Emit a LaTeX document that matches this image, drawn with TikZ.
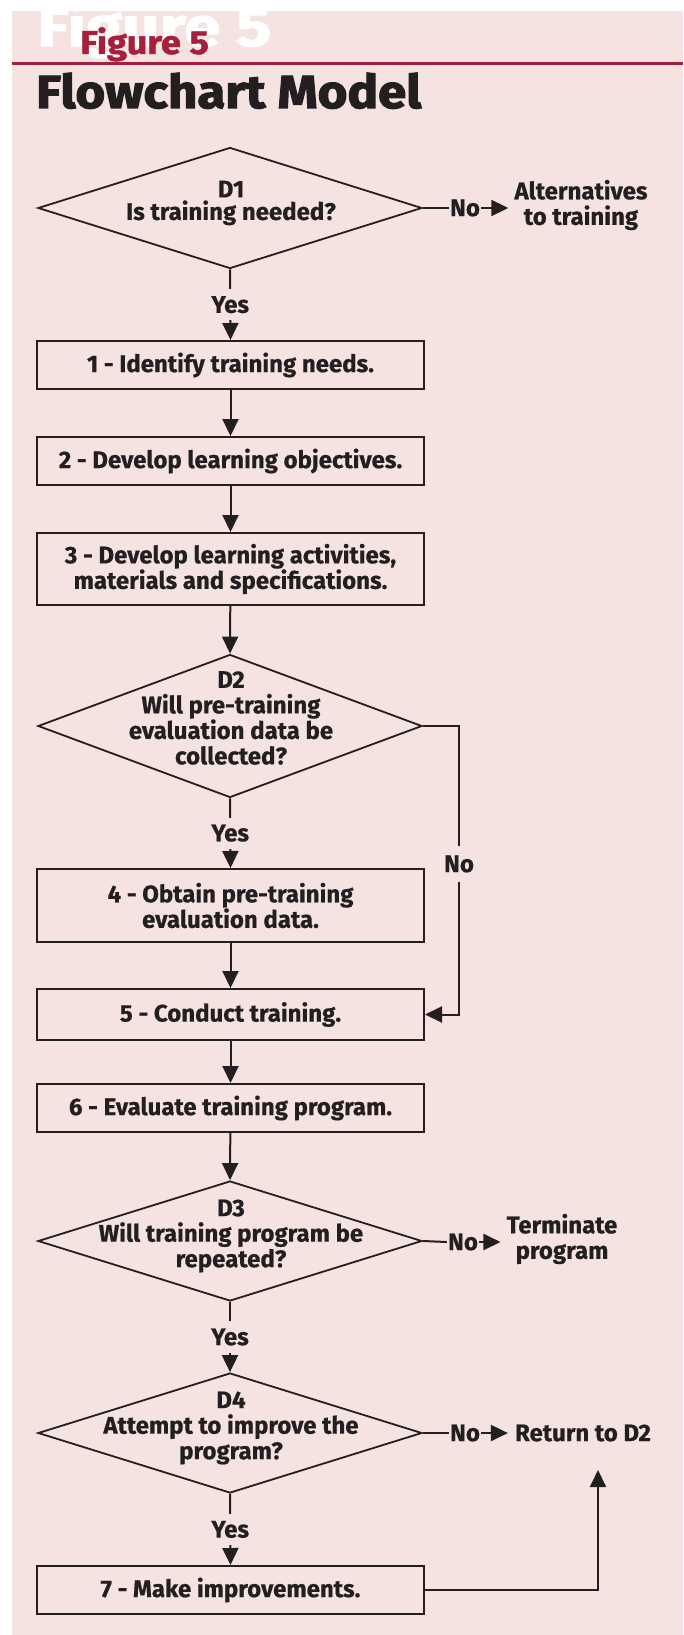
\documentclass[tikz,border=0pt]{standalone}
\usepackage{fontspec}
\setmainfont{Fira Sans}
\newfontfamily\bodyfont{Fira Sans}[FakeBold=0.6]
\newfontfamily\figfont{Fira Sans}[FakeStretch=1.1,FakeBold=1.5]
\newfontfamily\bigfigfont{Fira Sans}[FakeStretch=1.2,FakeBold=2]
\newfontfamily\headfont{Fira Sans}[FakeStretch=1.1,FakeBold=2.5]
\usetikzlibrary{shapes.geometric, arrows.meta}

\definecolor{bg}{HTML}{F4E3E0}
\definecolor{ink}{HTML}{231F20}
\definecolor{mag}{HTML}{A6203C}

\newcommand{\boxfont}{\bodyfont\bfseries\fontsize{24}{25.5}\selectfont}

\tikzset{
    stepbox/.style={draw=ink, line width=2pt, minimum width=387pt, minimum height=48pt,
        inner sep=0pt, align=center, text=ink, font=\boxfont},
    choice/.style={draw=ink, line width=1.8pt, diamond, minimum width=384pt,
        minimum height=121pt, inner sep=0pt},
    choicetext/.style={align=center, inner sep=0pt, text=ink, font=\boxfont},
    answer/.style={fill=bg, inner xsep=2pt, inner ysep=7pt, text=ink, font=\boxfont},
    sidetext/.style={align=center, inner sep=6pt, text=ink, font=\boxfont},
    flow/.style={draw=ink, line width=2pt, -{Triangle[length=17pt,width=16pt]}}
}

\begin{document}
\begin{tikzpicture}[x=1pt, y=-1pt]

\useasboundingbox (0,0) rectangle (683,1635);

\fill[bg] (12,11) rectangle (683,1635);

% heading
\node[anchor=base west, inner sep=0pt, text=white, font=\bigfigfont\bfseries\fontsize{55}{55}\selectfont] (bigfig) at (37,46) {Figure 5};
\node[anchor=base west, inner sep=0pt, text=mag, font=\figfont\bfseries\fontsize{33}{33}\selectfont] (fig) at (80,54) {Figure 5};
\draw[mag, line width=3pt] (12,63.5) -- (683,63.5);
\node[anchor=base west, inner sep=0pt, text=ink, font=\headfont\bfseries\fontsize{46.4}{46.4}\selectfont] (title) at (36,108) {Flowchart Model};

% decisions
\node[choice] (d1) at (230,208) {};
\node[choicetext] (d1t) at (231,203) {D1\\[-3pt]Is training needed?};

\node[choice, minimum height=143pt] (d2) at (230,726) {};
\node[choicetext] (d2t) at (231,718) {D2\\Will pre-training\\evaluation data be\\collected?};

\node[choice, minimum height=120pt] (d3) at (230,1241) {};
\node[choicetext] (d3t) at (231,1236) {D3\\Will training program be\\repeated?};

\node[choice, minimum height=120pt] (d4) at (230,1433) {};
\node[choicetext] (d4t) at (231,1428) {D4\\Attempt to improve the\\program?};

% steps
\node[stepbox] (b1) at (230.5,365) {1 - Identify training needs.};
\node[stepbox] (b2) at (230.5,461) {2 - Develop learning objectives.};
\node[stepbox, minimum height=72pt] (b3) at (230.5,569) {3 - Develop learning activities,\\materials and specifications.};
\node[stepbox, minimum height=73pt] (b4) at (230.5,905.5) {4 - Obtain pre-training\\evaluation data.};
\node[stepbox, minimum height=51pt] (b5) at (230.5,1014.5) {5 - Conduct training.};
\node[stepbox] (b6) at (230.5,1108) {6 - Evaluate training program.};
\node[stepbox] (b7) at (230.5,1590) {7 - Make improvements.};

% side results
\node[sidetext] (alt) at (581,205) {Alternatives\\to training};
\node[sidetext] (term) at (562,1239) {Terminate\\program};
\node[sidetext, inner sep=7pt] (ret) at (583,1433) {Return to D2};

\node[inner sep=1pt, text=ink, font=\boxfont] (no1) at (465,208) {No};
\node[inner sep=1pt, text=ink, font=\boxfont] (no3) at (463,1242) {No};
\node[inner sep=1pt, text=ink, font=\boxfont] (no4) at (465,1433) {No};

\coordinate (d2turn) at (459,726);
\coordinate (retup) at (598,1470);

% connectors
\draw[flow] (d1.south) -- (b1.north) node[answer, midway] (yes1) {Yes};
\draw[flow] (b1) -- (b2);
\draw[flow] (b2) -- (b3);
\draw[flow] (b3) -- (d2.north);
\draw[flow] (d2.south) -- (b4.north) node[answer, midway] (yes2) {Yes};
\draw[flow] (b4) -- (b5);
\draw[flow] (b5) -- (b6);
\draw[flow] (b6) -- (d3.north);
\draw[flow] (d3.south) -- (d4.north) node[answer, midway] (yes3) {Yes};
\draw[flow] (d4.south) -- (b7.north) node[answer, midway] (yes4) {Yes};

\draw[flow] (d2.east) -- (d2turn) |- (b5.east);
\node[answer, inner ysep=9pt] (no2) at (459,864) {No};

\draw[ink, line width=2pt] (d1.east) -- (no1.west);
\draw[flow] (no1.east) -- (no1.east -| alt.west);
\draw[ink, line width=2pt] (d3.east) -- (no3.west);
\draw[flow] (no3.east) -- (no3.east -| term.west);
\draw[ink, line width=2pt] (d4.east) -- (no4.west);
\draw[flow] (no4.east) -- (no4.east -| ret.west);

\draw[flow] (b7.east) -| (retup);

\end{tikzpicture}
\end{document}
